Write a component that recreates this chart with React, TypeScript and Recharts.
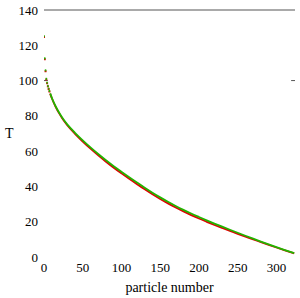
import React from 'react';
import { ComposedChart, Line, Scatter, XAxis, YAxis, ReferenceLine } from 'recharts';

const particleIdx = [8, 10, 12, 15, 20, 25, 30, 40, 50, 60, 70, 80, 90, 100, 110, 120, 130, 140, 150, 160, 170, 180, 190, 200, 210, 220, 230, 240, 250, 260, 270, 280, 290, 300, 310, 320, 323];
const greenT = [92.75, 90.35, 88.25, 85.46, 81.46, 78.06, 75.2, 70.4, 66.1, 62.1, 58.35, 54.8, 51.45, 48.3, 45.2, 42.2, 39.25, 36.45, 33.8, 31.3, 28.95, 26.73, 24.63, 22.68, 20.78, 18.95, 17.17, 15.44, 13.74, 12.06, 10.4, 8.76, 7.16, 5.58, 4.08, 2.63, 2.2];
const redT = [92.5, 90.1, 88.0, 85.15, 81.1, 77.6, 74.7, 69.8, 65.45, 61.4, 57.6, 54.0, 50.6, 47.4, 44.3, 41.3, 38.35, 35.55, 32.9, 30.4, 28.05, 25.85, 23.75, 21.8, 19.95, 18.15, 16.45, 14.8, 13.15, 11.55, 10.0, 8.42, 6.88, 5.38, 3.92, 2.52, 2.1];

const earlyIdx = [0, 1, 2, 3, 4, 5, 6, 7];
const earlyGreen = [125.2, 112.6, 105.8, 101, 98.8, 97.0, 95.45, 94.1];
const earlyRed = [124.7, 112.1, 105.3, 100.6, 98.5, 96.7, 95.2, 93.8];

const xTicks = [0, 50, 100, 150, 200, 250, 300];
const yTicks = [0, 20, 40, 60, 80, 100, 120, 140];

const RED = '#e00000';
const GREEN = '#22b400';
const FONT = '"Liberation Serif", "DejaVu Serif", serif';

const greenData = particleIdx.map((n, i) => ({ n, t: greenT[i] }));
const redData = particleIdx.map((n, i) => ({ n, t: redT[i] }));
const earlyGreenData = earlyIdx.map((n, i) => ({ n, t: earlyGreen[i] }));
const earlyRedData = earlyIdx.map((n, i) => ({ n, t: earlyRed[i] }));

const dotShape = (color: string, w: number) => (props: any) => (
  <rect x={props.cx - w / 2} y={props.cy - 1} width={w} height={2} fill={color} />
);

const XTick = (props: any) => (
  <text x={props.x} y={props.y} dy="0.71em" textAnchor="middle" fill="#000" fontSize={13} fontFamily={FONT}>
    {props.payload.value}
  </text>
);

const YTick = (props: any) => (
  <text x={props.x} y={props.y} dy="0.355em" textAnchor="end" fill="#000" fontSize={13} fontFamily={FONT}>
    {props.payload.value}
  </text>
);

export default function App() {
  return (
    <div style={{ position: 'absolute', left: 0, top: 0, background: '#fff', fontFamily: FONT }}>
      <ComposedChart
        width={300}
        height={298}
        margin={{ top: 10, right: 5, left: 0, bottom: 1 }}
        style={{ fontFamily: FONT }}
      >
        <XAxis
          type="number"
          dataKey="n"
          domain={[0, 324]}
          ticks={xTicks}
          axisLine={false}
          tickLine={false}
          tickMargin={0}
          height={40}
          allowDataOverflow
          tick={<XTick />}
          label={{ value: 'particle number', position: 'insideBottom', offset: 5, fill: '#000', fontSize: 14, fontFamily: FONT }}
        />
        <YAxis
          type="number"
          dataKey="t"
          domain={[0, 140]}
          ticks={yTicks}
          axisLine={false}
          tickLine={false}
          tickMargin={0}
          width={44}
          allowDataOverflow
          tick={<YTick />}
          label={{ value: 'T', position: 'insideLeft', offset: 5, fill: '#000', fontSize: 14, fontFamily: FONT }}
        />
        <ReferenceLine y={140} stroke="#555" strokeWidth={1} />
        <ReferenceLine segment={[{ x: 0, y: 100 }, { x: 5, y: 100 }]} stroke="#555" strokeWidth={1} />
        <ReferenceLine segment={[{ x: 319, y: 100 }, { x: 324, y: 100 }]} stroke="#555" strokeWidth={1} />
        <Line data={redData} dataKey="t" type="monotone" stroke={RED} strokeWidth={1.8} dot={false} isAnimationActive={false} />
        <Line data={greenData} dataKey="t" type="monotone" stroke={GREEN} strokeWidth={1.8} dot={false} isAnimationActive={false} />
        <Scatter data={earlyRedData} dataKey="t" shape={dotShape(RED, 2)} isAnimationActive={false} />
        <Scatter data={earlyGreenData} dataKey="t" shape={dotShape(GREEN, 1.5)} isAnimationActive={false} />
      </ComposedChart>
    </div>
  );
}
